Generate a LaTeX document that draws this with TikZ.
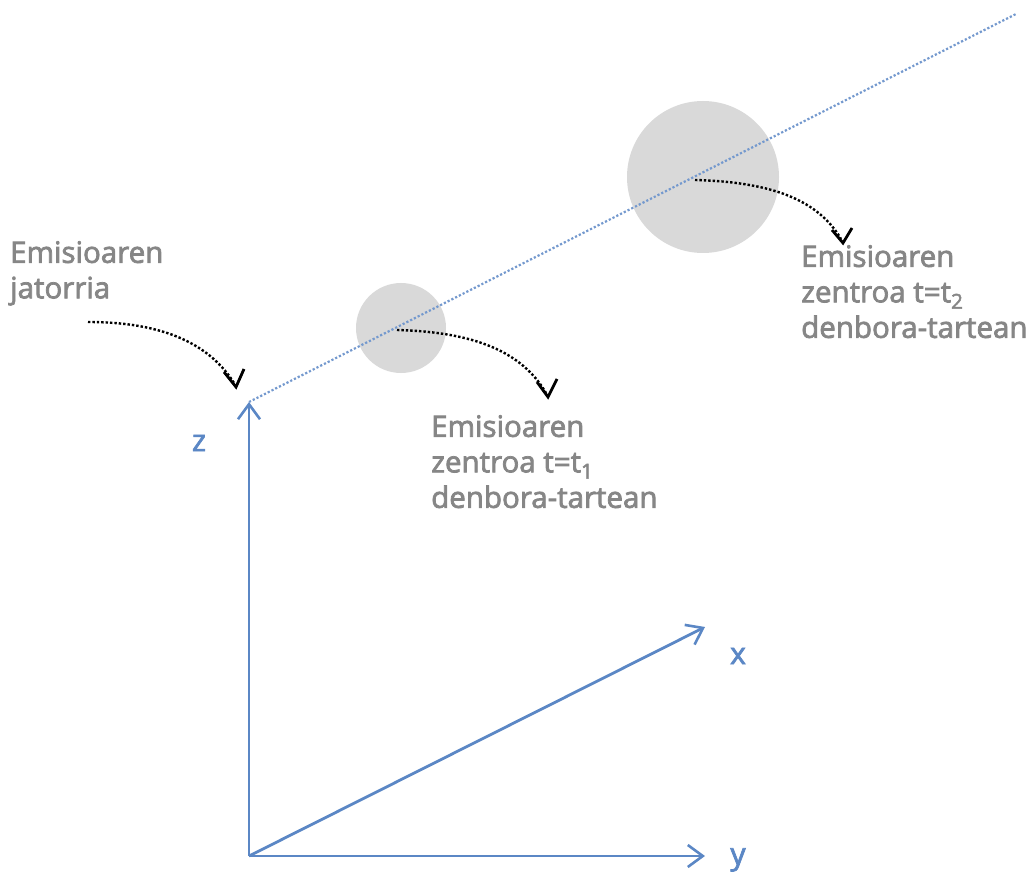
\documentclass[tikz,border=0pt]{standalone}
\usepackage{fontspec}
\setmainfont{Open Sans}
\usetikzlibrary{arrows.meta}
\definecolor{axisblue}{HTML}{5B87C5}
\definecolor{labelgray}{HTML}{868686}
\definecolor{blobgray}{HTML}{D9D9D9}
\begin{document}
\begin{tikzpicture}[x=1pt,y=-1pt,
  axis/.style={draw=axisblue,line width=2.8pt,-{Straight Barb[length=15pt,width=22pt,line width=2.6pt]}},
  path/.style={draw=axisblue!85,line width=2.2pt,dotted},
  pointer/.style={draw=black,line width=2.4pt,dotted},
  vhead/.style={draw=black,line width=2.8pt,solid,line join=miter},
  lbl/.style={text=labelgray,font=\fontsize{29.5}{35.5}\selectfont\addfontfeatures{FakeBold=2.5},align=left,inner sep=0pt},
  axlbl/.style={text=axisblue,font=\fontsize{30}{30}\selectfont\addfontfeatures{FakeBold=2.5},inner sep=0pt},
  blob/.style={fill=blobgray,draw=none,circle}]
\useasboundingbox (0,0) rectangle (1036,877);
% emission blobs
\node[blob,minimum size=90pt] (b1) at (401,328) {};
\node[blob,minimum size=152pt] (b2) at (703,177) {};
% axes
\coordinate (O) at (249,856);
\coordinate (src) at (249,402);
\coordinate (far) at (1016,14);
\coordinate (zt) at (249,402);
\coordinate (yt) at (705,856);
\coordinate (xt) at (705,627);
\draw[axis] (O) -- (zt);
\draw[axis] (O) -- (yt);
\draw[axis] (O) -- (xt);
% trajectory of the emission
\draw[path] (src) -- (far);
% axis labels
\node[axlbl] (lz) at (199,443) {z};
\node[axlbl] (lx) at (738,656) {x};
\node[axlbl] (ly) at (738,860) {y};
% text labels
\node[lbl,anchor=north west] (t0) at (10,241) {Emisioaren\\jatorria};
\node[lbl,anchor=north west] (t1) at (431,415) {Emisioaren\\zentroa t=t\textsubscript{1}\\denbora-tartean};
\node[lbl,anchor=north west] (t2) at (801,245) {Emisioaren\\zentroa t=t\textsubscript{2}\\denbora-tartean};
% pointers: dotted curve ending inside a solid open V
\coordinate (p0s) at (88,322);
\coordinate (p0e) at (234,383);
\coordinate (h0) at (236,387);
\draw[pointer] (p0s) .. controls (165,322) and (210,345) .. (p0e);
\draw[vhead] (h0) ++(-12,-15) -- (h0) -- ++(8,-18);
\coordinate (p1e) at (546,393);
\coordinate (h1) at (548,397);
\draw[pointer] (b1.center) ++(-4,2) coordinate (p1s) (p1s) .. controls (475,332) and (522,352) .. (p1e);
\draw[vhead] (h1) ++(-11,-15) -- (h1) -- ++(9,-18);
\coordinate (p2e) at (841,239);
\coordinate (h2) at (843,243);
\draw[pointer] (b2.center) ++(-8,3) coordinate (p2s) (p2s) .. controls (772,182) and (818,200) .. (p2e);
\draw[vhead] (h2) ++(-11,-13) -- (h2) -- ++(9,-15);
\end{tikzpicture}
\end{document}
